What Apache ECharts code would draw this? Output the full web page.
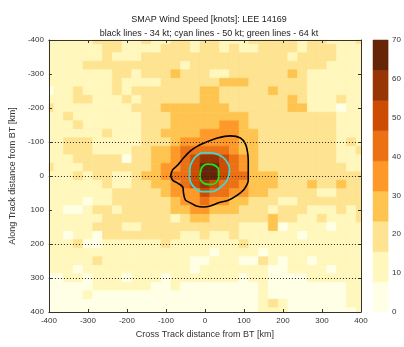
<!DOCTYPE html>
<html>
<head>
<meta charset="utf-8">
<script src="https://cdn.jsdelivr.net/npm/echarts@6/dist/echarts.min.js"></script>
<style>
  html, body { margin: 0; padding: 0; background: #fff; }
  #chart { width: 404px; height: 347px; }
</style>
</head>
<body>
<div id="chart"></div>
<script>
// cell centres along both axes (km from BT), 25 km grid
const cellKm = [-400, -375, -350, -325, -300, -275, -250, -225, -200, -175, -150, -125, -100, -75, -50, -25,
  0, 25, 50, 75, 100, 125, 150, 175, 200, 225, 250, 275, 300, 325, 350, 375, 400]
const axisTicks = [-400, -300, -200, -100, 0, 100, 200, 300, 400]
const dottedRows = [-100, 0, 200, 300]

// colour bands of the colorbar (knots) and the colormap
const levels = [0, 7.78, 15.56, 23.33, 31.11, 38.89, 46.67, 54.44, 62.22, 70]
const palette = ['#ffffe5', '#fff7bc', '#fee391', '#fec44f', '#fe9929', '#ec7014', '#cc4c02', '#993404', '#662506']
const cbTicks = [0, 10, 20, 30, 40, 50, 60, 70]

// wind speed, one digit per cell = colour band (rows top->bottom, cols left->right)
const speedRows = [
  '1111122211211221 22111222221221112',
  '1111112211112221 22121122221222111',
  '1111112111222222 22222222212222111',
  '1111222222222212 22222222222221111',
  '1111111221222322 21122222232111111',
  '1111111211112222 22333222222111111',
  '0112111212222222 33222223222111111',
  '1112211121222222 33222222232111211',
  '2111111112223333 33322222233111011',
  '1121111111222333 33333222222222111',
  '1112111111222333 33443222222222111',
  '1111112111223333 44443322222222111',
  '1122211111222344 44443322222222121',
  '1122211112233455 55543322222222112',
  '1112222202233456 77654322222222111',
  '2111222222234456 88654322222222211',
  '1112122112334556 88655333222222222',
  '1111112112233456 76554333222322322',
  '1111111222223444 65544332222211222',
  '1111011222222344 54433222112222222',
  '1100122122222334 43332221222111212',
  '1111112222222123 32222223221121112',
  '1111122211222222 22221113011110111',
  '1101102222222211 21121111110111111',
  '1112001111112111 11112111111111111',
  '1111111111111111 10111101111111111',
  '1111121111111110 01110021011011111',
  '1110111111111110 11111110011110111',
  '0011011101110111 11110110000111111',
  '0000011111100100 00000010000000011',
  '0000100000000000 00000010000000011',
  '0000000000000000 00000012100000011',
  '0000000000000000 00000011100000001'
]
// representative speed (kt) of each colour band
const bandKnots = [4, 12, 19, 27, 35, 43, 50, 58, 66]

// contour lines [cross km, along km]
const contour34 = [[-88, 0], [-83, -18], [-70, -32], [-55, -53], [-37, -74], [-19, -88], [4, -100], [32, -112],
  [65, -118], [91, -112], [104, -94], [109, -71], [111, -47], [111, -18], [111, 12], [101, 38], [83, 56],
  [60, 71], [35, 79], [14, 88], [-4, 91], [-22, 88], [-37, 79], [-50, 71], [-55, 50], [-57, 32], [-70, 21],
  [-83, 12], [-88, 0]]
const contour50 = [[-37, -32], [-24, -57], [-3, -69], [22, -67], [44, -57], [59, -37], [63, -18], [57, 12],
  [40, 33], [18, 46], [-7, 46], [-29, 31], [-39, 7], [-39, -18], [-37, -32]]
const contour64 = [[-12, -8], [-7, -27], [7, -35], [24, -32], [35, -18], [35, 4], [27, 21], [10, 25],
  [-5, 20], [-13, 2], [-12, -8]]

const cells = []
speedRows.forEach((row, i) => {
  row.replace(/ /g, '').split('').forEach((c, j) => {
    cells.push([cellKm[j], cellKm[i], bandKnots[+c]])
  })
})

const textColor = '#333'
const chart = echarts.init(document.getElementById('chart'))

function renderCell(params, api) {
  const x = api.value(0), y = api.value(1)
  const a = api.coord([x - 12.5, y - 12.5])
  const b = api.coord([x + 12.5, y + 12.5])
  const cs = params.coordSys
  const shape = echarts.graphic.clipRectByRect(
    { x: Math.min(a[0], b[0]), y: Math.min(a[1], b[1]), width: Math.abs(b[0] - a[0]), height: Math.abs(b[1] - a[1]) },
    { x: cs.x, y: cs.y, width: cs.width, height: cs.height })
  if (!shape) return
  const color = api.visual('color')
  return { type: 'rect', shape, style: { fill: color, stroke: color, lineWidth: 0.6 } }
}

function renderBand(params, api) {
  const k = api.value(0)
  const a = api.coord([0, levels[k]])
  const b = api.coord([1, levels[k + 1]])
  return {
    type: 'rect',
    shape: { x: a[0], y: b[1], width: b[0] - a[0], height: a[1] - b[1] },
    style: { fill: palette[k], stroke: palette[k], lineWidth: 0.5 }
  }
}

const frameAxis = {
  min: -400, max: 400, interval: 100, type: 'value', z: 5,
  axisLine: { show: true, onZero: false, lineStyle: { color: textColor, width: 1 } },
  axisTick: { show: true, inside: true, length: 3, lineStyle: { color: textColor } },
  splitLine: { show: false }
}
const tickLabel = { fontSize: 8, color: textColor, fontFamily: 'Liberation Sans, Arial' }
const nameStyle = { fontSize: 9, color: textColor, fontFamily: 'Liberation Sans, Arial' }

chart.setOption({
  animation: false,
  title: [
    { text: 'SMAP Wind Speed [knots]: LEE 14169', left: 204, top: 10, textAlign: 'center',
      textStyle: { fontSize: 9, fontWeight: 'normal', color: '#222', fontFamily: 'Liberation Sans, Arial' } },
    { text: 'black lines - 34 kt; cyan lines - 50 kt; green lines - 64 kt', left: 204, top: 24, textAlign: 'center',
      textStyle: { fontSize: 9, fontWeight: 'normal', color: '#222', fontFamily: 'Liberation Sans, Arial' } }
  ],
  grid: [
    { left: 48, top: 40, width: 313, height: 272 },
    { left: 373, top: 40, width: 16, height: 272 }
  ],
  xAxis: [
    Object.assign({}, frameAxis, { gridIndex: 0, position: 'bottom',
      axisLabel: Object.assign({ margin: 5 }, tickLabel),
      name: 'Cross Track distance from BT [km]', nameLocation: 'middle', nameGap: 17, nameTextStyle: nameStyle }),
    Object.assign({}, frameAxis, { gridIndex: 0, position: 'top', axisLabel: { show: false } }),
    { type: 'value', gridIndex: 1, min: 0, max: 1, show: false }
  ],
  yAxis: [
    Object.assign({}, frameAxis, { gridIndex: 0, position: 'left', inverse: true,
      axisLabel: Object.assign({ margin: 5 }, tickLabel),
      name: 'Along Track distance from BT [km]', nameLocation: 'middle', nameGap: 28, nameTextStyle: nameStyle }),
    Object.assign({}, frameAxis, { gridIndex: 0, position: 'right', inverse: true, axisLabel: { show: false } }),
    { type: 'value', gridIndex: 1, min: 0, max: 70, interval: 10, position: 'right',
      axisLine: { show: false }, axisTick: { show: false }, splitLine: { show: false },
      axisLabel: Object.assign({ margin: 4 }, tickLabel) }
  ],
  visualMap: {
    type: 'piecewise', show: false, seriesIndex: 0, dimension: 2,
    pieces: palette.map((c, k) => ({ gte: levels[k], lt: levels[k + 1], color: c }))
  },
  series: [
    { type: 'custom', xAxisIndex: 0, yAxisIndex: 0, renderItem: renderCell, data: cells, z: 1, silent: true },
    { type: 'line', xAxisIndex: 0, yAxisIndex: 0, data: contour34, showSymbol: false, smooth: 0.3, z: 3,
      lineStyle: { color: '#000', width: 1.6 }, silent: true,
      markLine: { silent: true, symbol: 'none', label: { show: false },
        lineStyle: { color: '#222', type: [1, 2], width: 1 },
        data: dottedRows.map(v => ({ yAxis: v })) } },
    { type: 'line', xAxisIndex: 0, yAxisIndex: 0, data: contour50, showSymbol: false, smooth: 0.3, z: 3,
      lineStyle: { color: '#40d8d0', width: 1.8 }, silent: true },
    { type: 'line', xAxisIndex: 0, yAxisIndex: 0, data: contour64, showSymbol: false, smooth: 0.3, z: 3,
      lineStyle: { color: '#22e022', width: 1.8 }, silent: true },
    { type: 'custom', xAxisIndex: 2, yAxisIndex: 2, renderItem: renderBand,
      data: palette.map((c, k) => [k]), silent: true }
  ]
})
</script>
</body>
</html>
